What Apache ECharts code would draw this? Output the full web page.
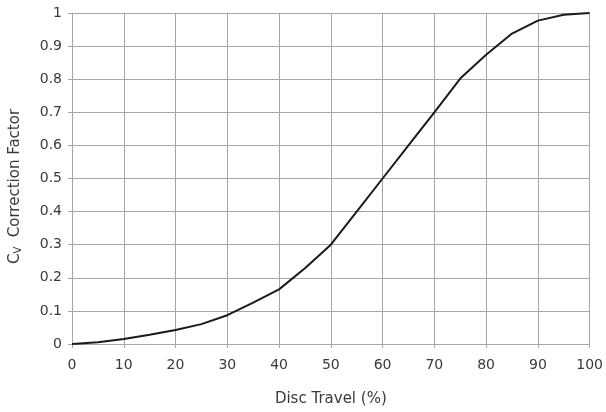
<!DOCTYPE html>
<html><head><meta charset="utf-8">
<script src="https://cdn.jsdelivr.net/npm/echarts@6/dist/echarts.min.js"></script>
<style>html,body{margin:0;padding:0;background:#fff}#c{width:606px;height:412px}</style>
</head><body><div id="c"></div>
<script>
var discTravel = [0,5,10,15,20,25,30,35,40,45,50,55,60,65,70,75,80,85,90,95,100];
var cvFactor = [0,0.005,0.015,0.028,0.042,0.06,0.087,0.125,0.165,0.229,0.3,0.4,0.5,0.6,0.7,0.802,0.874,0.938,0.977,0.995,1];
var xTicks = [0,10,20,30,40,50,60,70,80,90,100];
var yTicks = [0,0.1,0.2,0.3,0.4,0.5,0.6,0.7,0.8,0.9,1];
var font = 'DejaVu Sans';
var txt = '#3a3a3a';
var chart = echarts.init(document.getElementById('c'), null, {renderer:'canvas'});
chart.setOption({
  animation:false,
  backgroundColor:'#fff',
  grid:{left:71,right:15,top:13,bottom:68,containLabel:false},
  xAxis:{type:'value',min:0,max:100,interval:10,
    name:'Disc Travel (%)',nameLocation:'middle',nameGap:48,
    nameTextStyle:{fontFamily:font,fontSize:15,color:txt},
    axisLine:{show:true,lineStyle:{color:'#a6a6a6',width:1}},
    axisTick:{show:true,length:4,lineStyle:{color:'#a6a6a6'}},
    axisLabel:{fontFamily:font,fontSize:14,color:txt,margin:14,formatter:function(v){return xTicks.indexOf(v)>=0?String(v):'';}},
    splitLine:{show:true,lineStyle:{color:'#a6a6a6',width:1}}
  },
  yAxis:{type:'value',min:0,max:1,interval:0.1,
    name:'{a|C}{b|V}{a|  Correction Factor}',nameLocation:'middle',nameGap:49,nameRotate:90,
    nameTextStyle:{fontFamily:font,fontSize:15,color:txt,padding:[0,16,0,0],
      rich:{a:{fontFamily:font,fontSize:15,color:txt},b:{fontFamily:font,fontSize:10,color:txt,verticalAlign:'bottom'}}},
    axisLine:{show:true,lineStyle:{color:'#a6a6a6',width:1}},
    axisTick:{show:true,length:4,lineStyle:{color:'#a6a6a6'}},
    axisLabel:{fontFamily:font,fontSize:14,color:txt,margin:10,formatter:function(v){var r=Math.round(v*10)/10;return yTicks.indexOf(r)>=0?String(r):'';}},
    splitLine:{show:true,lineStyle:{color:'#a6a6a6',width:1}}
  },
  series:[{type:'line',data:discTravel.map(function(x,i){return [x,cvFactor[i]];}),
    showSymbol:false,symbol:'none',lineStyle:{color:'#1a1a1a',width:2},clip:false}]
});
</script></body></html>
